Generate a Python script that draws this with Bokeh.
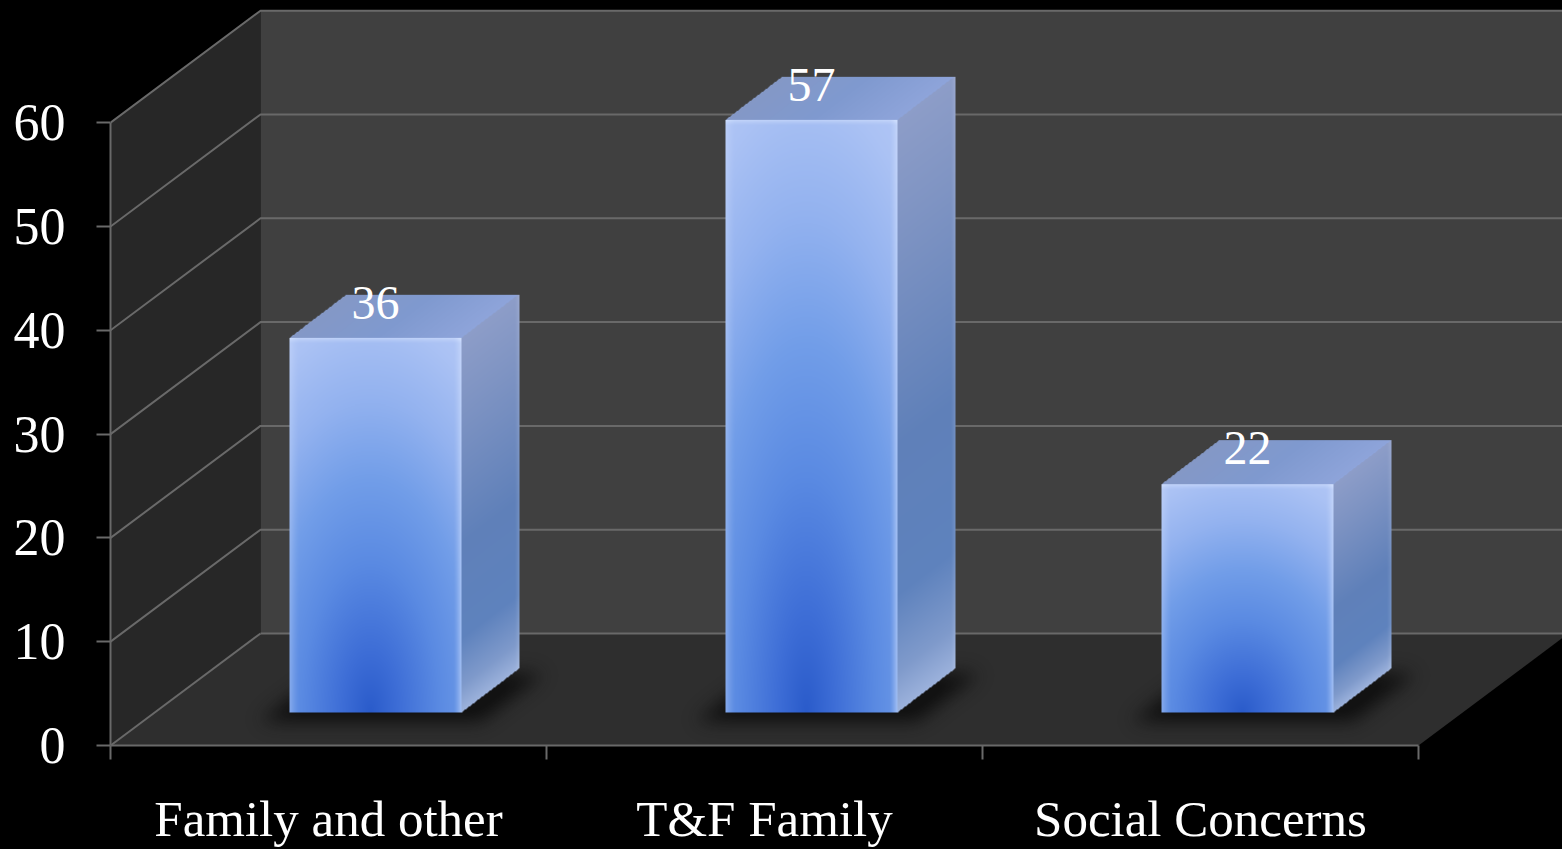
import numpy as np
from bokeh.core.properties import value
from bokeh.embed import file_html
from bokeh.models import FixedTicker, Range1d
from bokeh.plotting import figure
from bokeh.resources import INLINE

# ---- data ----
categories = ["Family and other", "T&F Family", "Social Concerns"]
series_values = [36, 57, 22]
y_ticks = [0, 10, 20, 30, 40, 50, 60]

# ---- layout (pixels per data unit, depth of the pseudo-3D box) ----
W, H = 1562, 849
LEFT, BOTTOM = 110, 104
PX_X, PX_Y = 436.0, 10.38
WALL_DX, WALL_DY = 150 / PX_X, 112 / PX_Y
BAR_OFF_X, BAR_OFF_Y = 179 / PX_X, 33 / PX_Y
BAR_W_PX, BAR_DX_PX, BAR_DY_PX = 172, 58, 44
FONT = value("Liberation Serif")
LINE = "#696969"

x_end = (W - LEFT) / PX_X
y_end = (H - BOTTOM) / PX_Y
n = len(categories)
y_max = max(y_ticks)

p = figure(width=W, height=H, output_backend="svg", toolbar_location=None,
           x_range=Range1d(0, x_end), y_range=Range1d(0, y_end),
           min_border_left=LEFT, min_border_bottom=BOTTOM, min_border_top=0, min_border_right=0,
           background_fill_color="#000000", border_fill_color="#000000",
           outline_line_color=None)
p.grid.visible = False

# walls and floor
p.patch([0, WALL_DX, WALL_DX, 0], [0, WALL_DY, y_max + WALL_DY, y_max], fill_color="#272727", line_color=None)
p.patch([WALL_DX, n + WALL_DX + 1, n + WALL_DX + 1, WALL_DX], [WALL_DY, WALL_DY, y_max + WALL_DY, y_max + WALL_DY],
        fill_color="#404040", line_color=None)
p.patch([0, n, n + WALL_DX, WALL_DX], [0, 0, WALL_DY, WALL_DY], fill_color="#2e2e2e", line_color=None)

# gridlines running along side wall and back wall
gx = [[0, WALL_DX, x_end] for _ in y_ticks]
gy = [[t, t + WALL_DY, t + WALL_DY] for t in y_ticks]
p.multi_line(gx[1:], gy[1:], line_color=LINE, line_width=2)
p.line(gx[0][:2], gy[0][:2], line_color=LINE, line_width=2)
p.line([WALL_DX, x_end], [WALL_DY, WALL_DY], line_color=LINE, line_width=2)


def hex_rgb(c):
    return np.array([int(c[i:i + 2], 16) for i in (1, 3, 5)], float)


def ramp(t, stops):
    xs = [s[0] for s in stops]
    cols = np.array([hex_rgb(s[1]) for s in stops])
    return np.stack([np.interp(t, xs, cols[:, k]) for k in range(3)], -1)


def smooth(d, r):
    return np.clip(1 - d / r, 0, 1) ** 1.5


def bar_image(bar_h):
    """RGBA picture of one box, row 0 at the bottom edge."""
    w, dx, dy = BAR_W_PX, BAR_DX_PX, BAR_DY_PX
    iw, ih = w + dx, bar_h + dy
    yy, xx = np.mgrid[0:ih, 0:iw] + 0.5
    rgb = np.zeros((ih, iw, 3))
    a = np.zeros((ih, iw))

    # top face
    s_top = (dy - yy) / dy
    left = xx - dx * s_top
    top_mask = (yy < dy) & (left >= 0) & (left <= w)
    u = np.clip(left / w, 0, 1)
    top_col = ramp(u, [(0, "#8498c6"), (0.5, "#7f99cf"), (1, "#8ea4da")])
    rgb[top_mask] = top_col[top_mask]
    a[top_mask] = 1

    # side face
    sx = xx - w
    v_side = (yy - dy * (1 - sx / dx)) / bar_h
    side_mask = (sx >= 0) & (v_side >= 0) & (v_side <= 1)
    side_col = ramp(np.clip(v_side, 0, 1), [(0, "#8d9dc8"), (0.18, "#7f94c3"), (0.55, "#5f80b9"),
                                            (0.8, "#5e82bd"), (0.93, "#7f9acb"), (1, "#9cb2dc")])
    rgb[side_mask] = side_col[side_mask]
    a[side_mask] = 1
    glow = smooth(dx - sx, 5) * 0.14
    rgb = rgb + (255 - rgb) * (glow * side_mask)[..., None]

    # front face
    fx, fy = xx, yy - dy
    front = (fx < w) & (fy >= 0)
    uu = fx / w
    vv = np.clip(fy / bar_h, 0, 1)
    r = np.sqrt(((uu - 0.47) / 1.0) ** 2 + (1 - vv) ** 2)
    col = ramp(r, [(0, "#2a5bca"), (0.16, "#3d6dd6"), (0.4, "#5a8ae2"), (0.62, "#719de8"),
                   (0.84, "#93b2ef"), (1.05, "#abc2f4"), (1.25, "#b6c9f8")])
    light = hex_rgb("#d5e3ff")
    mix = (smooth(w - fx, 8) * 0.55 + smooth(fx, 10) * 0.32 + smooth(fy, 6) * 0.55)
    mix = np.clip(mix, 0, 0.8)[..., None]
    col = col + (light - col) * mix
    rgb[front] = col[front]
    a[front] = 1

    rgba = np.dstack([rgb, a * 255]).round().astype(np.uint8)
    out = np.zeros((ih, iw), dtype=np.uint32)
    view = out.view(np.uint8).reshape((ih, iw, 4))
    view[:, :, :] = rgba[::-1]
    return out


def shadow_image():
    """Soft shadow of the footprint of one box on the floor."""
    pad = 60
    w, dx, dy = BAR_W_PX, BAR_DX_PX, BAR_DY_PX
    iw, ih = w + dx + 2 * pad, dy + 2 * pad
    yy, xx = np.mgrid[0:ih, 0:iw] + 0.5
    s = (pad + dy - yy) / dy
    left = xx - pad - dx * s
    m = ((left >= -24) & (left <= w + 24) & (yy >= pad) & (yy <= pad + dy + 4)).astype(float)
    kernel = np.exp(-0.5 * (np.arange(-27, 28) / 9.0) ** 2)
    kernel /= kernel.sum()
    m = np.apply_along_axis(lambda c: np.convolve(c, kernel, "same"), 0, m)
    m = np.apply_along_axis(lambda c: np.convolve(c, kernel, "same"), 1, m)
    out = np.zeros((ih, iw), dtype=np.uint32)
    view = out.view(np.uint8).reshape((ih, iw, 4))
    view[:, :, 0:3] = 10
    view[:, :, 3] = (np.clip(m * 1.2, 0, 1) * 190).astype(np.uint8)[::-1]
    return out, pad, iw, ih


shadow, pad, sw, sh = shadow_image()
for i in range(n):
    p.image_rgba(image=[shadow], x=[i + BAR_OFF_X - pad / PX_X], y=[BAR_OFF_Y - (pad + 5) / PX_Y],
                 dw=[sw / PX_X], dh=[sh / PX_Y])

for i, val in enumerate(series_values):
    bh = int(round(val * PX_Y))
    img = bar_image(bh)
    p.image_rgba(image=[img], x=[i + BAR_OFF_X], y=[BAR_OFF_Y],
                 dw=[(BAR_W_PX + BAR_DX_PX) / PX_X], dh=[val + BAR_DY_PX / PX_Y])

# value labels, on the top face of each box
lx = [i + BAR_OFF_X + BAR_W_PX / 2 / PX_X for i in range(n)]
ly = [v + BAR_OFF_Y + 36 / PX_Y for v in series_values]
p.text(lx, ly, text=[str(v) for v in series_values], text_color="#ffffff", text_font=FONT,
       text_font_size="48px", text_align="center", text_baseline="middle")

# axes
ax = p.yaxis[0]
ax.ticker = FixedTicker(ticks=y_ticks)
ax.bounds = (0, y_max)
ax.axis_line_color = LINE
ax.axis_line_width = 2
ax.major_tick_line_color = LINE
ax.major_tick_line_width = 2
ax.major_tick_in = 0
ax.major_tick_out = 14
ax.minor_tick_line_color = None
ax.major_label_standoff = 31
ax.major_label_text_color = "#ffffff"
ax.major_label_text_font = "Liberation Serif"
ax.major_label_text_font_size = "52px"

bx = p.xaxis[0]
centers = [i + 0.5 for i in range(n)]
bx.ticker = FixedTicker(ticks=centers, minor_ticks=list(range(n + 1)))
bx.major_label_overrides = dict(zip(centers, categories))
bx.bounds = (0, n)
bx.axis_line_color = LINE
bx.axis_line_width = 2
bx.major_tick_line_color = None
bx.major_tick_in = 0
bx.major_tick_out = 0
bx.minor_tick_line_color = LINE
bx.minor_tick_line_width = 2
bx.minor_tick_in = 0
bx.minor_tick_out = 14
bx.major_label_standoff = 31
bx.major_label_text_color = "#ffffff"
bx.major_label_text_font = "Liberation Serif"
bx.major_label_text_font_size = "51px"

html = file_html(p, INLINE)
html = html.replace("<head>", "<head><style>html,body{margin:0;padding:0;background:#000;overflow:hidden}</style>", 1)
open("out.html", "w").write(html)
